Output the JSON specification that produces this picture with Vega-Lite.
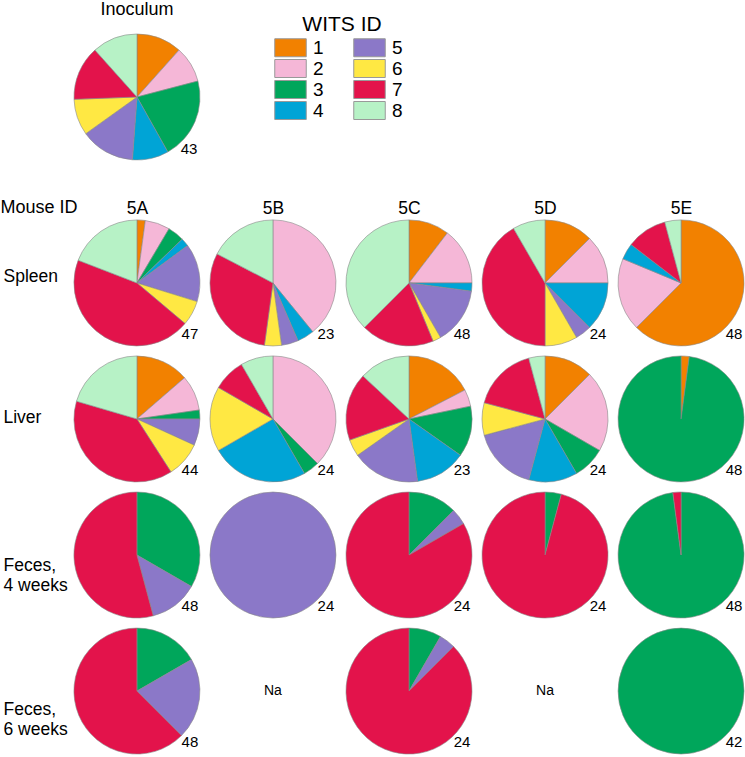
{
  "$schema": "https://vega.github.io/schema/vega-lite/v6.json",
  "padding": {"left": 0, "top": 0, "right": 0, "bottom": 0},
  "autosize": {"type": "pad"},
  "background": "white",
  "config": {"font": "Liberation Sans", "view": {"stroke": null}, "axis": {"grid": false}},
  "bounds": "flush",
  "spacing": 58,
  "resolve": {"scale": {"color": "shared"}, "legend": {"color": "shared"}},
  "vconcat": [
    {
      "width": 128,
      "height": 128,
      "title": {"text": "Inoculum", "fontSize": 18, "fontWeight": "normal", "baseline": "bottom", "offset": -4, "anchor": "middle", "color": "#000000"},
      "data": {"values": [
        {"sample": "Inoculum", "wits": "1", "count": 5},
        {"sample": "Inoculum", "wits": "2", "count": 4},
        {"sample": "Inoculum", "wits": "3", "count": 9},
        {"sample": "Inoculum", "wits": "4", "count": 4},
        {"sample": "Inoculum", "wits": "5", "count": 6},
        {"sample": "Inoculum", "wits": "6", "count": 4},
        {"sample": "Inoculum", "wits": "7", "count": 6},
        {"sample": "Inoculum", "wits": "8", "count": 5}
      ]},
      "transform": [
        {"stack": "count", "groupby": ["sample"], "sort": [{"field": "wits", "order": "ascending"}], "as": ["t0", "t1"], "offset": "normalize"}
      ],
      "layer": [
        {
          "mark": {"type": "arc", "radius": 63, "stroke": "#888888", "strokeWidth": 0.6},
          "encoding": {
            "theta": {"field": "t0", "type": "quantitative", "scale": {"domain": [0, 1]}, "stack": null},
            "theta2": {"field": "t1"},
            "color": {"field": "wits", "type": "nominal", "title": "WITS ID",
              "scale": {"domain": ["1","2","3","4","5","6","7","8"], "range": ["#F28100","#F5B7D7","#00A65B","#00A4D6","#8B78C8","#FFE843","#E3134B","#B7F2C6"]},
              "legend": {"orient": "none", "legendX": 208, "legendY": -19, "columns": 2, "symbolType": "M-1.75,-1H1.75V1H-1.75Z", "symbolSize": 324, "symbolStrokeColor": "#999999", "symbolStrokeWidth": 1, "symbolOpacity": 1, "labelFontSize": 19, "labelOffset": 13, "titleFontSize": 21, "titleFontWeight": "normal", "titleAnchor": "middle", "titlePadding": 3, "rowPadding": -2.5, "columnPadding": 27, "labelColor": "#000000", "titleColor": "#000000"}}
          }
        },
        {
          "transform": [{"aggregate": [{"op": "sum", "field": "count", "as": "n"}], "groupby": ["sample"]}],
          "mark": {"type": "text", "dx": 52, "dy": 52, "fontSize": 15, "align": "center", "baseline": "middle", "color": "#000000"},
          "encoding": {"text": {"field": "n", "type": "quantitative"}}
        }
      ]
    },
    {
      "width": 672,
      "height": 536,
      "data": {"values": [
        {"tissue": "Spleen", "mouse": "5A", "wits": "1", "count": 1},
        {"tissue": "Spleen", "mouse": "5A", "wits": "2", "count": 3},
        {"tissue": "Spleen", "mouse": "5A", "wits": "3", "count": 2},
        {"tissue": "Spleen", "mouse": "5A", "wits": "4", "count": 1},
        {"tissue": "Spleen", "mouse": "5A", "wits": "5", "count": 7},
        {"tissue": "Spleen", "mouse": "5A", "wits": "6", "count": 3},
        {"tissue": "Spleen", "mouse": "5A", "wits": "7", "count": 21},
        {"tissue": "Spleen", "mouse": "5A", "wits": "8", "count": 9},
        {"tissue": "Spleen", "mouse": "5B", "wits": "2", "count": 9},
        {"tissue": "Spleen", "mouse": "5B", "wits": "4", "count": 1},
        {"tissue": "Spleen", "mouse": "5B", "wits": "5", "count": 1},
        {"tissue": "Spleen", "mouse": "5B", "wits": "6", "count": 1},
        {"tissue": "Spleen", "mouse": "5B", "wits": "7", "count": 7},
        {"tissue": "Spleen", "mouse": "5B", "wits": "8", "count": 4},
        {"tissue": "Spleen", "mouse": "5C", "wits": "1", "count": 5},
        {"tissue": "Spleen", "mouse": "5C", "wits": "2", "count": 7},
        {"tissue": "Spleen", "mouse": "5C", "wits": "4", "count": 1},
        {"tissue": "Spleen", "mouse": "5C", "wits": "5", "count": 7},
        {"tissue": "Spleen", "mouse": "5C", "wits": "6", "count": 1},
        {"tissue": "Spleen", "mouse": "5C", "wits": "7", "count": 9},
        {"tissue": "Spleen", "mouse": "5C", "wits": "8", "count": 18},
        {"tissue": "Spleen", "mouse": "5D", "wits": "1", "count": 3},
        {"tissue": "Spleen", "mouse": "5D", "wits": "2", "count": 3},
        {"tissue": "Spleen", "mouse": "5D", "wits": "4", "count": 3},
        {"tissue": "Spleen", "mouse": "5D", "wits": "5", "count": 1},
        {"tissue": "Spleen", "mouse": "5D", "wits": "6", "count": 2},
        {"tissue": "Spleen", "mouse": "5D", "wits": "7", "count": 10},
        {"tissue": "Spleen", "mouse": "5D", "wits": "8", "count": 2},
        {"tissue": "Spleen", "mouse": "5E", "wits": "1", "count": 30},
        {"tissue": "Spleen", "mouse": "5E", "wits": "2", "count": 9},
        {"tissue": "Spleen", "mouse": "5E", "wits": "4", "count": 2},
        {"tissue": "Spleen", "mouse": "5E", "wits": "7", "count": 5},
        {"tissue": "Spleen", "mouse": "5E", "wits": "8", "count": 2},
        {"tissue": "Liver", "mouse": "5A", "wits": "1", "count": 6},
        {"tissue": "Liver", "mouse": "5A", "wits": "2", "count": 4},
        {"tissue": "Liver", "mouse": "5A", "wits": "3", "count": 1},
        {"tissue": "Liver", "mouse": "5A", "wits": "5", "count": 3},
        {"tissue": "Liver", "mouse": "5A", "wits": "6", "count": 4},
        {"tissue": "Liver", "mouse": "5A", "wits": "7", "count": 17},
        {"tissue": "Liver", "mouse": "5A", "wits": "8", "count": 9},
        {"tissue": "Liver", "mouse": "5B", "wits": "2", "count": 9},
        {"tissue": "Liver", "mouse": "5B", "wits": "3", "count": 1},
        {"tissue": "Liver", "mouse": "5B", "wits": "4", "count": 6},
        {"tissue": "Liver", "mouse": "5B", "wits": "6", "count": 4},
        {"tissue": "Liver", "mouse": "5B", "wits": "7", "count": 2},
        {"tissue": "Liver", "mouse": "5B", "wits": "8", "count": 2},
        {"tissue": "Liver", "mouse": "5C", "wits": "1", "count": 4},
        {"tissue": "Liver", "mouse": "5C", "wits": "2", "count": 1},
        {"tissue": "Liver", "mouse": "5C", "wits": "3", "count": 3},
        {"tissue": "Liver", "mouse": "5C", "wits": "4", "count": 3},
        {"tissue": "Liver", "mouse": "5C", "wits": "5", "count": 4},
        {"tissue": "Liver", "mouse": "5C", "wits": "6", "count": 1},
        {"tissue": "Liver", "mouse": "5C", "wits": "7", "count": 4},
        {"tissue": "Liver", "mouse": "5C", "wits": "8", "count": 3},
        {"tissue": "Liver", "mouse": "5D", "wits": "1", "count": 3},
        {"tissue": "Liver", "mouse": "5D", "wits": "2", "count": 5},
        {"tissue": "Liver", "mouse": "5D", "wits": "3", "count": 2},
        {"tissue": "Liver", "mouse": "5D", "wits": "4", "count": 3},
        {"tissue": "Liver", "mouse": "5D", "wits": "5", "count": 4},
        {"tissue": "Liver", "mouse": "5D", "wits": "6", "count": 2},
        {"tissue": "Liver", "mouse": "5D", "wits": "7", "count": 4},
        {"tissue": "Liver", "mouse": "5D", "wits": "8", "count": 1},
        {"tissue": "Liver", "mouse": "5E", "wits": "1", "count": 1},
        {"tissue": "Liver", "mouse": "5E", "wits": "3", "count": 47},
        {"tissue": "Feces, 4 weeks", "mouse": "5A", "wits": "3", "count": 16},
        {"tissue": "Feces, 4 weeks", "mouse": "5A", "wits": "5", "count": 6},
        {"tissue": "Feces, 4 weeks", "mouse": "5A", "wits": "7", "count": 26},
        {"tissue": "Feces, 4 weeks", "mouse": "5B", "wits": "5", "count": 24},
        {"tissue": "Feces, 4 weeks", "mouse": "5C", "wits": "3", "count": 3},
        {"tissue": "Feces, 4 weeks", "mouse": "5C", "wits": "5", "count": 1},
        {"tissue": "Feces, 4 weeks", "mouse": "5C", "wits": "7", "count": 20},
        {"tissue": "Feces, 4 weeks", "mouse": "5D", "wits": "3", "count": 1},
        {"tissue": "Feces, 4 weeks", "mouse": "5D", "wits": "7", "count": 23},
        {"tissue": "Feces, 4 weeks", "mouse": "5E", "wits": "3", "count": 47},
        {"tissue": "Feces, 4 weeks", "mouse": "5E", "wits": "7", "count": 1},
        {"tissue": "Feces, 6 weeks", "mouse": "5A", "wits": "3", "count": 8},
        {"tissue": "Feces, 6 weeks", "mouse": "5A", "wits": "5", "count": 10},
        {"tissue": "Feces, 6 weeks", "mouse": "5A", "wits": "7", "count": 30},
        {"tissue": "Feces, 6 weeks", "mouse": "5C", "wits": "3", "count": 2},
        {"tissue": "Feces, 6 weeks", "mouse": "5C", "wits": "5", "count": 1},
        {"tissue": "Feces, 6 weeks", "mouse": "5C", "wits": "7", "count": 21},
        {"tissue": "Feces, 6 weeks", "mouse": "5E", "wits": "3", "count": 42}
      ]},
      "encoding": {
        "x": {"field": "mouse", "type": "nominal",
          "scale": {"type": "point", "padding": 0.47, "domain": ["5A", "5B", "5C", "5D", "5E"]},
          "axis": {"orient": "top", "title": null, "domain": false, "ticks": false, "tickSize": 0, "labelPadding": 2, "labelAngle": 0, "labelFontSize": 17.5, "labelColor": "#000000"}},
        "y": {"field": "tissue", "type": "nominal",
          "scale": {"type": "point", "padding": 0.47, "domain": ["Spleen", "Liver", "Feces, 4 weeks", "Feces, 6 weeks"]},
          "axis": {"orient": "left", "title": "Mouse ID", "titleAngle": 0, "titleX": -73, "titleY": -12, "titleAlign": "left", "titleBaseline": "middle", "titleFontSize": 18, "titleFontWeight": "normal", "titleColor": "#000000",
            "domain": false, "ticks": false, "tickSize": 0, "labelPadding": 70, "labelAlign": "left", "labelBaseline": "middle", "labelFontSize": 17.5, "labelColor": "#000000", "labelLineHeight": 20,
            "labelExpr": "split(replace(datum.value, ', ', ',|'), '|')",
            "labelOffset": {"condition": [{"test": "datum.value == 'Feces, 4 weeks'", "value": 10}, {"test": "datum.value == 'Feces, 6 weeks'", "value": 18}, {"test": "datum.value == 'Spleen'", "value": -6}], "value": -1}}}
      },
      "layer": [
        {
          "transform": [
            {"stack": "count", "groupby": ["tissue", "mouse"], "sort": [{"field": "wits", "order": "ascending"}], "as": ["t0", "t1"], "offset": "normalize"}
          ],
          "mark": {"type": "arc", "radius": 63, "stroke": "#888888", "strokeWidth": 0.6},
          "encoding": {
            "theta": {"field": "t0", "type": "quantitative", "scale": {"domain": [0, 1]}, "stack": null},
            "theta2": {"field": "t1"},
            "color": {"field": "wits", "type": "nominal", "title": "WITS ID",
              "scale": {"domain": ["1","2","3","4","5","6","7","8"], "range": ["#F28100","#F5B7D7","#00A65B","#00A4D6","#8B78C8","#FFE843","#E3134B","#B7F2C6"]},
              "legend": {"orient": "none", "legendX": 208, "legendY": -19, "columns": 2, "symbolType": "M-1.75,-1H1.75V1H-1.75Z", "symbolSize": 324, "symbolStrokeColor": "#999999", "symbolStrokeWidth": 1, "symbolOpacity": 1, "labelFontSize": 19, "labelOffset": 13, "titleFontSize": 21, "titleFontWeight": "normal", "titleAnchor": "middle", "titlePadding": 3, "rowPadding": -2.5, "columnPadding": 27, "labelColor": "#000000", "titleColor": "#000000"}}
          }
        },
        {
          "transform": [{"aggregate": [{"op": "sum", "field": "count", "as": "n"}], "groupby": ["tissue", "mouse"]}],
          "mark": {"type": "text", "dx": 53, "dy": 51, "fontSize": 15, "align": "center", "baseline": "middle", "color": "#000000"},
          "encoding": {"text": {"field": "n", "type": "quantitative"}}
        },
        {
          "data": {"values": [
            {"tissue": "Feces, 6 weeks", "mouse": "5B", "label": "Na"},
            {"tissue": "Feces, 6 weeks", "mouse": "5D", "label": "Na"}
          ]},
          "mark": {"type": "text", "fontSize": 14, "align": "center", "baseline": "middle", "color": "#000000"},
          "encoding": {"text": {"field": "label", "type": "nominal"}}
        }
      ]
    }
  ]
}
